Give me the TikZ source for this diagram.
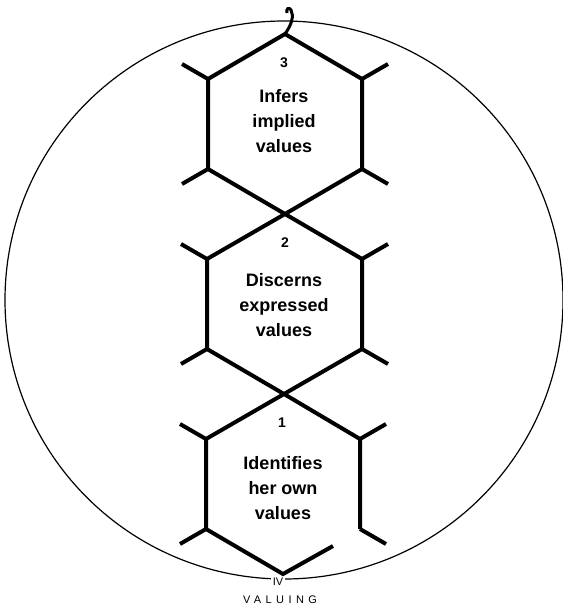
\documentclass[tikz,border=0pt]{standalone}
\usepackage{fontspec}
\setmainfont{Liberation Sans}
\begin{document}
\begin{tikzpicture}[x=1pt,y=-1pt]
\tikzstyle{alveole} = [line width=4pt] %traits des hexagones
\tikzstyle{etiquette} = [font=\fontsize{18}{25}\selectfont\bfseries,align=center]
\tikzstyle{numero} = [font=\fontsize{14}{16}\selectfont\bfseries]
\useasboundingbox (0,0) rectangle (563,606);

%cercle
\draw[line width=1.2pt] (284,300) circle [radius=279pt];
\node[font=\fontsize{11}{12}\selectfont,fill=white,inner sep=1.5pt](IV) at (278,582){IV};
\node[font=\fontsize{11}{13}\selectfont\addfontfeatures{LetterSpace=40}](V) at (280,600){VALUING};

%sommets des hexagones
\coordinate (A3) at (285,34); \coordinate (B3) at (362,79); \coordinate (C3) at (362,169);
\coordinate (D3) at (285,214); \coordinate (E3) at (208,169); \coordinate (F3) at (208,79);
\coordinate (B2) at (362,259); \coordinate (C2) at (362,349);
\coordinate (D2) at (284,394); \coordinate (E2) at (207,349); \coordinate (F2) at (207,259);
\coordinate (B1) at (360,439); \coordinate (C1) at (360,529);
\coordinate (D1) at (283,574); \coordinate (E1) at (206,529); \coordinate (F1) at (206,439);
\coordinate (G1) at (333,546); %bout du trait coupe

%tracer les hexagones
\draw[alveole] (A3)--(B3)--(C3)--(D3)--(E3)--(F3)--cycle;
\draw[alveole] (D3)--(B2)--(C2)--(D2)--(E2)--(F2)--cycle;
\draw[alveole] (G1)--(D1)--(E1)--(F1)--(D2)--(B1)--(C1);

%petits traits
\draw[alveole] (F3)--++(-26,-15) (B3)--++(26,-15) (C3)--++(26,15) (E3)--++(-26,15);
\draw[alveole] (F2)--++(-26,-15) (B2)--++(26,-15) (C2)--++(26,15) (E2)--++(-26,15);
\draw[alveole] (F1)--++(-26,-15) (B1)--++(26,-15) (C1)--++(26,15) (E1)--++(-26,15);

%crochet du haut
\draw[line width=3pt] (A3) .. controls (292,24) and (294,16) .. (291,10) .. controls (289,7) and (286,8) .. (287,13);

%textes
\node[numero](n3) at (284,63){3};
\node[etiquette](t3) at (284,121){Infers\\implied\\values};
\node[numero](n2) at (285,243){2};
\node[etiquette](t2) at (284,305){Discerns\\expressed\\values};
\node[numero](n1) at (282,423){1};
\node[etiquette](t1) at (283,488){Identifies\\her own\\values};
\end{tikzpicture}
\end{document}
